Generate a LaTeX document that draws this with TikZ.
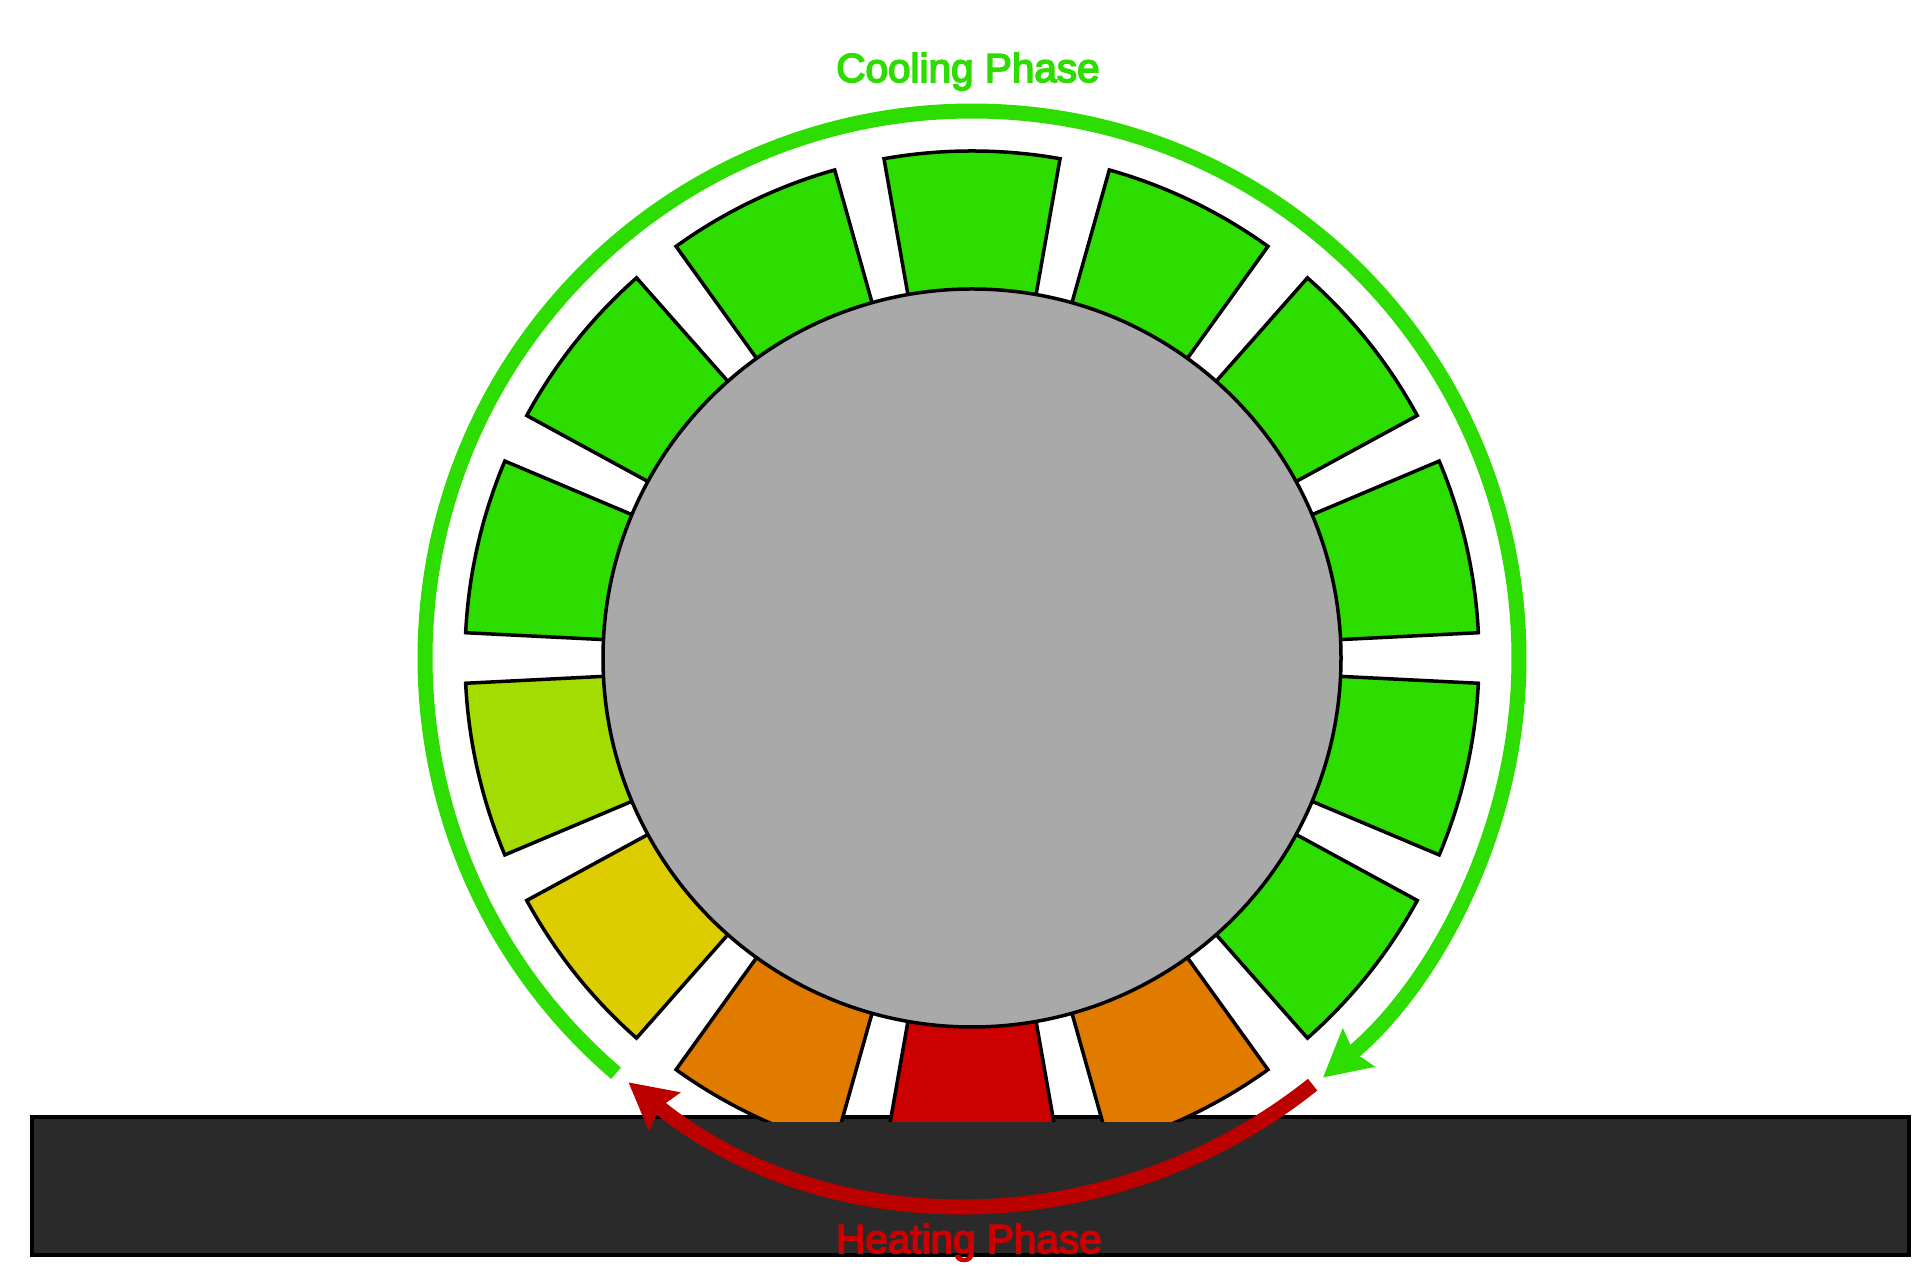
\documentclass[tikz,border=0pt]{standalone}
\usepackage{fontspec}
\setmainfont{Liberation Sans}
\newfontfamily\phasefont{Liberation Sans}[FakeBold=4]
\usepackage{xcolor}
\usepackage{tikz}
\usetikzlibrary{arrows.meta}

\definecolor{coolgreen}{HTML}{2EDD00}
\definecolor{mildgreen}{HTML}{A3DC00}
\definecolor{warmyellow}{HTML}{DCCC00}
\definecolor{warmorange}{HTML}{E07B00}
\definecolor{hotred}{HTML}{CC0000}
\definecolor{heatred}{HTML}{BB0000}
\definecolor{hubgray}{HTML}{A9A9A9}
\definecolor{groundgray}{HTML}{2A2A2A}

\begin{document}
\begin{tikzpicture}[
    x=1pt, y=1pt,
    segment/.style={draw=black, line width=3.5pt},
    phase/.style={line width=15pt, -{Stealth[length=46pt, width=48pt, inset=6pt]}},
    label/.style={anchor=base, font=\phasefont\fontsize{40.5}{48}\selectfont}
]
\useasboundingbox (0,0) rectangle (1931,1279);

% Ground
\draw[fill=groundgray, line width=4.5pt] (32,24) rectangle (1909,162);

\begin{scope}[shift={(972,621)}]
% Tread segments - flattened where they touch the ground
\begin{scope}
\clip (-1000,-464) rectangle (1000,1000);
\foreach \k/\col in {0/coolgreen, 1/coolgreen, 2/coolgreen, 3/coolgreen,
                     4/coolgreen, 5/coolgreen, 6/warmorange, 7/hotred,
                     8/warmorange, 9/warmyellow, 10/mildgreen, 11/coolgreen,
                     12/coolgreen, 13/coolgreen} {
    \pgfmathsetmacro{\a}{90-\k*360/14}
    \draw[segment, fill=\col] ({\a-10}:300pt) -- ({\a-10}:507pt)
        arc[start angle=\a-10, end angle=\a+10, radius=507pt]
        -- ({\a+10}:300pt) -- cycle;
}
\end{scope}

% Hub
\draw[fill=hubgray, line width=3.5pt] (0,0) circle[radius=369pt];

% Phase arrows
\draw[phase, coolgreen] (229.4:547pt) arc[start angle=229.4, end angle=-50.1, radius=547pt];
\draw[phase, heatred] (-51.4:546pt) arc[start angle=-51.4, end angle=-129, radius=546pt];
\end{scope}

% Labels
\node[label, coolgreen] (cooling) at (968,1197) {Cooling Phase};
\node[label, hotred] (heating) at (969,26) {Heating Phase};

\end{tikzpicture}
\end{document}
